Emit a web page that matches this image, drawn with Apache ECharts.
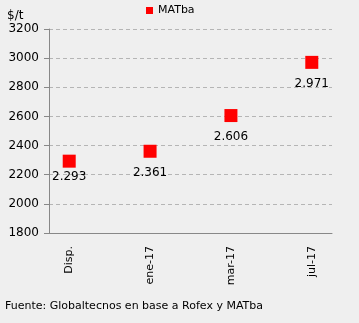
<!DOCTYPE html>
<html><head><meta charset="utf-8">
<script src="https://cdn.jsdelivr.net/npm/echarts@6/dist/echarts.min.js"></script>
<style>html,body{margin:0;padding:0;background:#efefef}#c{width:359px;height:323px}</style>
</head><body><div id="c"></div>
<script>
const categories = ['Disp.', '', 'ene-17', '', 'mar-17', '', 'jul-17'];
const values = [2293, null, 2361, null, 2606, null, 2971];
const seriesName = 'MATba';
const yUnit = '$/t';
const source = 'Fuente: Globaltecnos en base a Rofex y MATba';
const font = 'DejaVu Sans';
const chart = echarts.init(document.getElementById('c'));
const seriesData = values.map((v, i) => i === 0 ? {value: v, label: {distance: 3}} : v);
chart.setOption({
  backgroundColor: '#efefef',
  animation: false,
  textStyle: {fontFamily: font},
  grid: {left: 49, right: 27, top: 29, bottom: 90},
  legend: {
    data: [seriesName], left: 141, top: 0, itemWidth: 7, itemHeight: 7, itemGap: 3,
    icon: 'rect', textStyle: {fontFamily: font, fontSize: 11, color: '#000'}
  },
  graphic: [
    {type: 'text', left: 7, top: 10, style: {text: yUnit, font: '12px "DejaVu Sans"', fill: '#000'}},
    {type: 'text', left: 5, top: 301, style: {text: source, font: '11px "DejaVu Sans"', fill: '#000'}}
  ],
  xAxis: {
    type: 'category', data: categories, boundaryGap: true,
    axisLine: {lineStyle: {color: '#888'}},
    axisTick: {interval: 0, length: 4, lineStyle: {color: '#888'}},
    axisLabel: {interval: 0, rotate: 90, margin: 13, fontSize: 11, color: '#000', fontFamily: font},
    splitLine: {show: false}
  },
  yAxis: {
    type: 'value', min: 1800, max: 3200, interval: 200,
    axisLine: {show: true, lineStyle: {color: '#888'}},
    axisTick: {show: true, length: 5, lineStyle: {color: '#888'}},
    axisLabel: {fontSize: 12, color: '#000', margin: 10, fontFamily: font, formatter: v => String(v)},
    splitLine: {lineStyle: {color: '#b5b5b5', type: [4, 3]}}
  },
  series: [{
    name: seriesName, type: 'scatter', symbol: 'rect', symbolSize: 13,
    itemStyle: {color: '#ff0000', opacity: 1},
    emphasis: {disabled: true},
    data: seriesData,
    label: {
      show: true, position: 'bottom', distance: 9, fontSize: 12, color: '#000', fontFamily: font,
      formatter: p => p.value == null ? '' : String(p.value).replace(/(\d)(\d{3})$/, '$1.$2')
    }
  }]
});
</script></body></html>
